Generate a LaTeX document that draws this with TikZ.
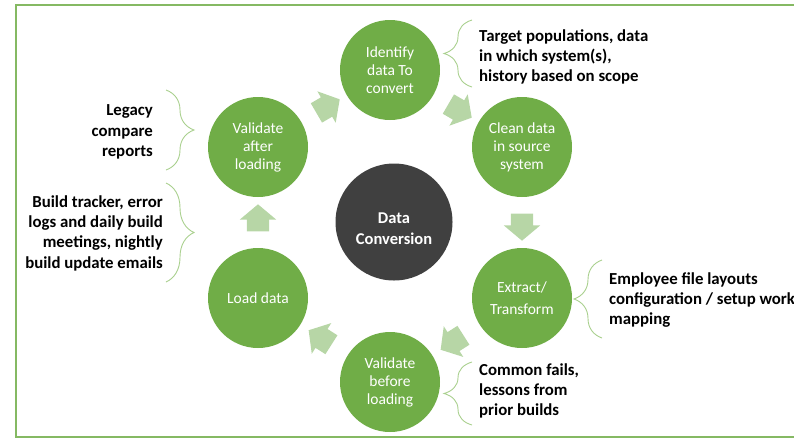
\documentclass[tikz,border=0pt]{standalone}
\usepackage{fontspec}
\setmainfont{Carlito}
\usetikzlibrary{shapes.arrows,decorations.pathreplacing,positioning}

\definecolor{stagegreen}{HTML}{70AD47}
\definecolor{flowgreen}{HTML}{B7D6A6}
\definecolor{bracegreen}{HTML}{A9D08E}
\definecolor{hubgray}{HTML}{404040}

\begin{document}
\begin{tikzpicture}[x=1pt,y=-1pt,
    stage/.style={circle,fill=stagegreen,draw=none,text=white,minimum size=100pt,
                  inner sep=0pt,align=center,font=\fontsize{15.5}{18}\selectfont},
    hub/.style={circle,fill=hubgray,draw=none,minimum size=117pt,inner sep=0pt},
    flow/.style={single arrow,fill=flowgreen,draw=none,sloped,allow upside down,
                 inner xsep=0pt,inner ysep=11pt,minimum height=27pt,
                 single arrow head extend=7pt,single arrow tip angle=100},
    note/.style={font=\fontsize{16.8}{20.3}\selectfont\bfseries,inner sep=0pt},
    bracket/.style={draw=bracegreen,line width=0.9pt,decorate,
                    decoration={brace,amplitude=28pt}}]
  \useasboundingbox (0,0) rectangle (794,440);
  % frame, open on the right
  \draw[stagegreen!85!white,line width=2pt] (830,5) -- (16,5) -- (16,437) -- (830,437);

  % the cycle
  \node[hub] (hub) at (394,222) {};
  \node[font=\fontsize{16.5}{21}\selectfont\bfseries,text=white,align=center]
       at (hub.center) [yshift=-7pt] {Data\\Conversion};
  \node[stage] (ident)  at (390,70)  {Identify\\data To\\convert};
  \node[stage] (clean)  at (522,147) {Clean data\\in source\\system};
  \node[stage] (extr)   at (522,298) {Extract/\\[4pt]Transform};
  \node[stage] (valpre) at (390,382) {Validate\\before\\loading};
  \node[stage] (load)   at (258,298) {Load data};
  \node[stage] (valpost) at (258,147) {Validate\\after\\loading};

  % arrows between stages
  \path (ident)  -- node[flow] {} (clean);
  \path (clean)  -- node[flow] {} (extr);
  \path (extr)   -- node[flow] {} (valpre);
  \path (valpre) -- node[flow] {} (load);
  \path (load)   -- node[flow] {} (valpost);
  \path (valpost) -- node[flow] {} (ident);

  % braces and notes
  \draw[bracket] (472,87) -- (472,20);
  \node[note,anchor=west,align=left] (target) at (479,57)
       {Target populations, data\\in which system(s),\\history based on scope};
  \draw[bracket] (166,90) -- (166,170);
  \node[note,anchor=east,align=right] (legacy) at (153,132)
       {Legacy\\compare\\reports};
  \draw[bracket] (166,183) -- (166,282);
  \node[note,anchor=east,align=right] (tracker) at (163,233)
       {Build tracker, error\\logs and daily build\\meetings, nightly\\build update emails};
  \draw[bracket] (602,338) -- (602,260);
  \node[note,anchor=west,align=left] (layouts) at (609,300)
       {Employee file layouts\\configuration / setup work\\mapping};
  \draw[bracket] (472,425) -- (472,362);
  \node[note,anchor=west,align=left] (fails) at (479,391)
       {Common fails,\\lessons from\\prior builds};
\end{tikzpicture}
\end{document}
